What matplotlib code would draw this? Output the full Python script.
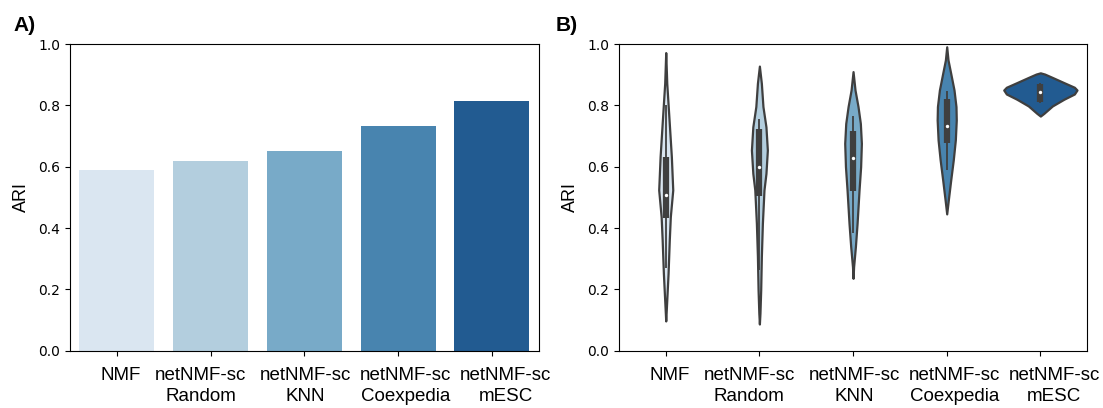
import numpy as np
import matplotlib
matplotlib.use("Agg")
import matplotlib.pyplot as plt
import matplotlib.transforms as mtransforms
import seaborn as sns

methods = ["NMF", "netNMF-sc\nRandom", "netNMF-sc\nKNN", "netNMF-sc\nCoexpedia", "netNMF-sc\nmESC"]
ari_mean = [0.588, 0.618, 0.650, 0.732, 0.814]

# violin outlines: ARI value -> half width (in category units)
nmf_y = [0.097, 0.165, 0.252, 0.361, 0.437, 0.524, 0.633, 0.741, 0.872, 0.972]
nmf_w = [0.0, 0.011, 0.025, 0.038, 0.049, 0.075, 0.060, 0.038, 0.011, 0.0]
rnd_y = [0.087, 0.122, 0.198, 0.307, 0.415, 0.524, 0.578, 0.654, 0.730, 0.796, 0.872, 0.928]
rnd_w = [0.0, 0.006, 0.014, 0.021, 0.032, 0.049, 0.070, 0.085, 0.070, 0.038, 0.021, 0.0]
knn_y = [0.236, 0.274, 0.339, 0.415, 0.524, 0.600, 0.676, 0.741, 0.796, 0.850, 0.910]
knn_w = [0.0, 0.006, 0.025, 0.043, 0.064, 0.081, 0.089, 0.078, 0.053, 0.021, 0.0]
cox_y = [0.446, 0.491, 0.557, 0.622, 0.687, 0.752, 0.796, 0.850, 0.904, 0.948, 0.991]
cox_w = [0.0, 0.017, 0.043, 0.070, 0.092, 0.102, 0.099, 0.078, 0.043, 0.014, 0.0]
esc_y = [0.765, 0.774, 0.798, 0.820, 0.837, 0.850, 0.859, 0.874, 0.891, 0.902, 0.906]
esc_w = [0.0, 0.038, 0.128, 0.252, 0.363, 0.391, 0.363, 0.252, 0.128, 0.046, 0.0]

# inner box: whisker low, q1, median, q3, whisker high
q_lo = [0.269, 0.263, 0.383, 0.589, 0.806]
q1 = [0.434, 0.504, 0.521, 0.678, 0.812]
q_med = [0.508, 0.598, 0.627, 0.734, 0.845]
q3 = [0.633, 0.723, 0.717, 0.820, 0.870]
q_hi = [0.800, 0.755, 0.765, 0.847, 0.872]

profiles = [(nmf_y, nmf_w), (rnd_y, rnd_w), (knn_y, knn_w), (cox_y, cox_w), (esc_y, esc_w)]
colors = sns.color_palette("Blues", 5, desat=0.75)
edge = "#3f3f3f"

W, H = 1103, 408
fig = plt.figure(figsize=(W / 100, H / 100), dpi=100)
axA = fig.add_axes([70 / W, (H - 350.7) / H, 468.6 / W, 306.7 / H])
axB = fig.add_axes([618.9 / W, (H - 350.7) / H, 468.3 / W, 306.7 / H])

x = np.arange(len(methods))
axA.bar(x, ari_mean, width=0.8, color=colors)

for i, (ys, ws) in enumerate(profiles):
    ys = np.array(ys)
    ws = np.array(ws)
    axB.fill_betweenx(ys, i - ws, i + ws, facecolor=colors[i], edgecolor=edge, lw=1.6, zorder=2)
    axB.vlines(i, q_lo[i], q_hi[i], color=edge, lw=1.3, zorder=3)
    axB.vlines(i, q1[i], q3[i], color=edge, lw=4.5, zorder=3)
    axB.scatter(i, q_med[i], s=6, color="white", zorder=4, linewidths=0)

# labels sit slightly off their ticks in the original
offsets_px = [3.5, -10, 1, 7.5, 14]
for ax in (axA, axB):
    ax.set_xlim(-0.5, 4.5)
    ax.set_ylim(0, 1)
    ax.set_yticks([0, 0.2, 0.4, 0.6, 0.8, 1.0])
    ax.tick_params(axis="y", labelsize=10)
    ax.set_xticks(x)
    ax.set_xticklabels(methods, family="Liberation Sans", fontsize=13.5, linespacing=1.3)
    ax.tick_params(axis="x", pad=8)
    ax.set_ylabel("ARI", family="Liberation Sans", fontsize=13, labelpad=6)
    for lab, dx in zip(ax.get_xticklabels(), offsets_px):
        lab.set_transform(lab.get_transform() + mtransforms.ScaledTranslation(dx / 100, 0, fig.dpi_scale_trans))

fig.text(13 / W, 1 - 31 / H, "A)", family="Liberation Sans", fontweight="bold", fontsize=15, va="baseline")
fig.text(556 / W, 1 - 31 / H, "B)", family="Liberation Sans", fontweight="bold", fontsize=15, va="baseline")

fig.savefig("out.png", dpi=100)
